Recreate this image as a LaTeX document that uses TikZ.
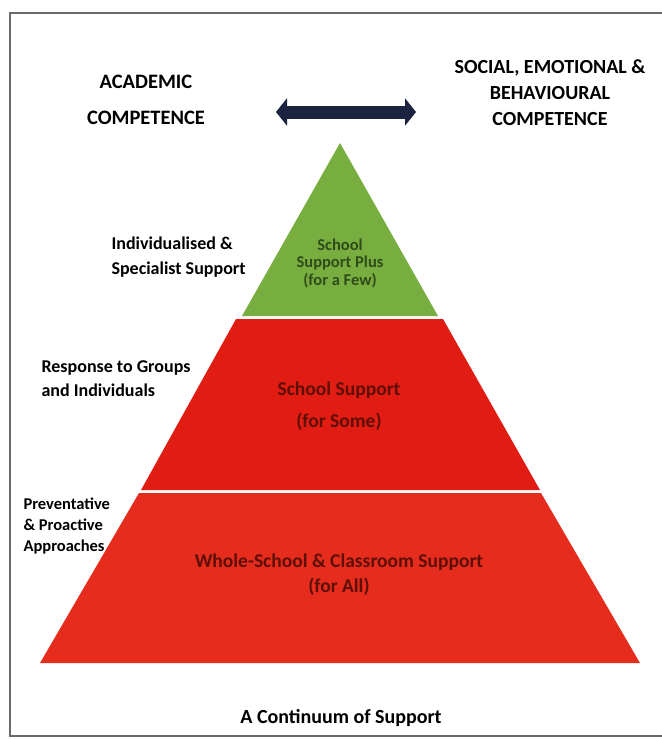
\documentclass[tikz,border=0pt]{standalone}
\usepackage{fontspec}
\setmainfont{Carlito}
\usepackage{tikz}
\usepackage{xcolor}
\usetikzlibrary{calc,arrows.meta}
\definecolor{leafgreen}{HTML}{77AE3F}
\definecolor{brickred}{HTML}{E11C12}
\definecolor{flamered}{HTML}{E62C1C}
\definecolor{navyarrow}{HTML}{1C2340}
\definecolor{framegrey}{HTML}{6A6A6A}
\definecolor{darkgreentext}{HTML}{2F4C1A}
\definecolor{darkredtext}{HTML}{5E0F08}
\tikzstyle{heading} =[
    font=\bfseries\fontsize{20.5}{27}\selectfont,
    align=center,
    text=black
    ]
\tikzstyle{sidelabel} =[
    font=\bfseries\fontsize{18}{24}\selectfont,
    align=left,
    anchor=west,
    text=black
    ]
\tikzstyle{tierlabel} =[
    font=\bfseries\fontsize{19.5}{32}\selectfont,
    align=center
    ]
\tikzstyle{tier} = [
    draw=none
    ]

\begin{document}
\begin{tikzpicture}[x=1pt,y=-1pt]
\useasboundingbox (0,0) rectangle (662,740);
\fill[white] (0,0) rectangle (662,740);
\draw[framegrey, line width=1.5pt] (10,13) rectangle (680,736);

% headings and the two-way arrow
\node[heading] (academic) at (146,100) {ACADEMIC\\[9pt]COMPETENCE};
\node[heading, font=\bfseries\fontsize{20}{26}\selectfont]
    (social) at (550,93) {SOCIAL, EMOTIONAL \&\\BEHAVIOURAL\\COMPETENCE};
\coordinate (arrowl) at (276,112);
\coordinate (arrowr) at (416,112);
\draw[navyarrow, line width=13pt,
    {Triangle[length=11pt,width=27pt]}-{Triangle[length=11pt,width=27pt]}]
    (arrowl) -- (arrowr);

% the pyramid, tier by tier
\coordinate (apex) at (340,143);
\coordinate (plusl) at (242,316);
\coordinate (plusr) at (438,316);
\coordinate (somel) at (236,319);
\coordinate (somer) at (443,319);
\coordinate (somebl) at (141,490);
\coordinate (somebr) at (540,490);
\coordinate (alll) at (139,493);
\coordinate (allr) at (541,493);
\coordinate (allbl) at (40,663);
\coordinate (allbr) at (640,663);
\fill[tier, leafgreen] (apex) -- (plusr) -- (plusl) -- cycle;
\fill[tier, brickred] (somel) -- (somer) -- (somebr) -- (somebl) -- cycle;
\fill[tier, flamered] (alll) -- (allr) -- (allbr) -- (allbl) -- cycle;

\node[tierlabel, text=darkgreentext, font=\bfseries\fontsize{16.5}{17.5}\selectfont]
    (plus) at (340,263) {School\\Support Plus\\(for a Few)};
\node[tierlabel, text=darkredtext] (some) at (339,406) {School Support\\(for Some)};
\node[tierlabel, text=darkredtext, font=\bfseries\fontsize{19.5}{25}\selectfont]
    (all) at (339,575) {Whole-School \& Classroom Support\\(for All)};

% labels to the left of the pyramid
\node[sidelabel, font=\bfseries\fontsize{18}{25}\selectfont]
    (individual) at (108,257) {Individualised \&\\Specialist Support};
\node[sidelabel] (response) at (38,379) {Response to Groups\\and Individuals};
\node[sidelabel, font=\bfseries\fontsize{16.5}{21}\selectfont]
    (preventative) at (20,526) {Preventative\\\& Proactive\\Approaches};

\node[font=\bfseries\fontsize{20}{22}\selectfont] (continuum) at (341,718) {A Continuum of Support};
\end{tikzpicture}
\end{document}
